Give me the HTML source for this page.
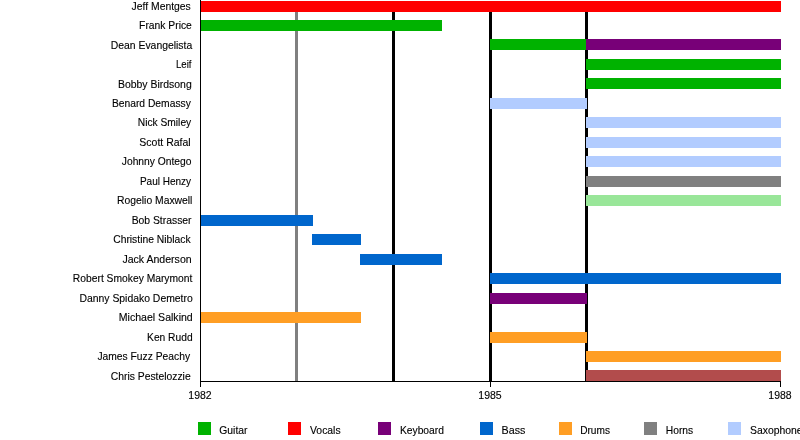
<!DOCTYPE html>
<html><head><meta charset="utf-8"><title>Timeline</title>
<style>
html,body{margin:0;padding:0;background:#fff;}
body{width:800px;height:440px;overflow:hidden;font-family:"Liberation Sans",sans-serif;}
svg{display:block;will-change:transform;}
text{font-family:"Liberation Sans",sans-serif;font-size:10.4px;fill:#000;stroke:#000;stroke-width:0.12px;}
</style></head><body>
<svg width="800" height="440" viewBox="0 0 800 440" shape-rendering="crispEdges">
<rect x="0" y="0" width="800" height="440" fill="#ffffff"/>
<g>
<rect x="295" y="1" width="3" height="380" fill="#808080"/>
<rect x="392" y="1" width="3" height="380" fill="#000000"/>
<rect x="489" y="1" width="3" height="380" fill="#000000"/>
<rect x="585" y="1" width="3" height="380" fill="#000000"/>
</g>
<g>
<rect x="200" y="1" width="581" height="11" fill="#ff0000"/>
<rect x="200" y="20" width="242" height="11" fill="#00b200"/>
<rect x="490" y="39" width="96" height="11" fill="#00b200"/>
<rect x="586" y="39" width="195" height="11" fill="#780078"/>
<rect x="586" y="59" width="195" height="11" fill="#00b200"/>
<rect x="586" y="78" width="195" height="11" fill="#00b200"/>
<rect x="490" y="98" width="97" height="11" fill="#b2ccff"/>
<rect x="586" y="117" width="195" height="11" fill="#b2ccff"/>
<rect x="586" y="137" width="195" height="11" fill="#b2ccff"/>
<rect x="586" y="156" width="195" height="11" fill="#b2ccff"/>
<rect x="586" y="176" width="195" height="11" fill="#808080"/>
<rect x="586" y="195" width="195" height="11" fill="#99e699"/>
<rect x="200" y="215" width="113" height="11" fill="#0066cc"/>
<rect x="312" y="234" width="49" height="11" fill="#0066cc"/>
<rect x="360" y="254" width="82" height="11" fill="#0066cc"/>
<rect x="490" y="273" width="291" height="11" fill="#0066cc"/>
<rect x="490" y="293" width="97" height="11" fill="#780078"/>
<rect x="200" y="312" width="161" height="11" fill="#ff9e24"/>
<rect x="490" y="332" width="97" height="11" fill="#ff9e24"/>
<rect x="586" y="351" width="195" height="11" fill="#ff9e24"/>
<rect x="586" y="370" width="195" height="11" fill="#b24c4c"/>
</g>
<g fill="#000000">
<rect x="200" y="0" width="1" height="387"/>
<rect x="200" y="381" width="581" height="1"/>
<rect x="490" y="381" width="1" height="6"/>
<rect x="780" y="381" width="1" height="6"/>
</g>
<g>
<text id="n0" x="190.81" y="10.00" text-anchor="end" textLength="59.23" lengthAdjust="spacingAndGlyphs">Jeff Mentges</text>
<text id="n1" x="191.84" y="29.00" text-anchor="end" textLength="52.72" lengthAdjust="spacingAndGlyphs">Frank Price</text>
<text id="n2" x="192.22" y="49.00" text-anchor="end" textLength="81.45" lengthAdjust="spacingAndGlyphs">Dean Evangelista</text>
<text id="n3" x="191.46" y="68.00" text-anchor="end" textLength="15.44" lengthAdjust="spacingAndGlyphs">Leif</text>
<text id="n4" x="191.70" y="88.00" text-anchor="end" textLength="73.72" lengthAdjust="spacingAndGlyphs">Bobby Birdsong</text>
<text id="n5" x="190.83" y="107.00" text-anchor="end" textLength="78.91" lengthAdjust="spacingAndGlyphs">Benard Demassy</text>
<text id="n6" x="191.20" y="126.00" text-anchor="end" textLength="53.43" lengthAdjust="spacingAndGlyphs">Nick Smiley</text>
<text id="n7" x="190.71" y="146.00" text-anchor="end" textLength="51.34" lengthAdjust="spacingAndGlyphs">Scott Rafal</text>
<text id="n8" x="191.54" y="165.00" text-anchor="end" textLength="69.77" lengthAdjust="spacingAndGlyphs">Johnny Ontego</text>
<text id="n9" x="191.14" y="185.00" text-anchor="end" textLength="51.26" lengthAdjust="spacingAndGlyphs">Paul Henzy</text>
<text id="n10" x="192.42" y="204.00" text-anchor="end" textLength="75.35" lengthAdjust="spacingAndGlyphs">Rogelio Maxwell</text>
<text id="n11" x="191.55" y="224.00" text-anchor="end" textLength="59.91" lengthAdjust="spacingAndGlyphs">Bob Strasser</text>
<text id="n12" x="190.65" y="243.00" text-anchor="end" textLength="77.45" lengthAdjust="spacingAndGlyphs">Christine Niblack</text>
<text id="n13" x="191.64" y="263.00" text-anchor="end" textLength="69.22" lengthAdjust="spacingAndGlyphs">Jack Anderson</text>
<text id="n14" x="192.40" y="282.00" text-anchor="end" textLength="119.53" lengthAdjust="spacingAndGlyphs">Robert Smokey Marymont</text>
<text id="n15" x="192.75" y="302.00" text-anchor="end" textLength="113.31" lengthAdjust="spacingAndGlyphs">Danny Spidako Demetro</text>
<text id="n16" x="192.75" y="321.00" text-anchor="end" textLength="73.99" lengthAdjust="spacingAndGlyphs">Michael Salkind</text>
<text id="n17" x="192.57" y="341.00" text-anchor="end" textLength="45.49" lengthAdjust="spacingAndGlyphs">Ken Rudd</text>
<text id="n18" x="190.04" y="360.00" text-anchor="end" textLength="92.60" lengthAdjust="spacingAndGlyphs">James Fuzz Peachy</text>
<text id="n19" x="190.69" y="380.00" text-anchor="end" textLength="79.88" lengthAdjust="spacingAndGlyphs">Chris Pestelozzie</text>
</g>
<g>
<text id="y1982" x="199.98" y="399.00" text-anchor="middle" textLength="23.30" lengthAdjust="spacingAndGlyphs">1982</text>
<text id="y1985" x="490.00" y="399.00" text-anchor="middle" textLength="23.36" lengthAdjust="spacingAndGlyphs">1985</text>
<text id="y1988" x="779.96" y="399.00" text-anchor="middle" textLength="23.26" lengthAdjust="spacingAndGlyphs">1988</text>
</g>
<g>
<rect x="198.00" y="422" width="13" height="13" fill="#00b200"/>
<text id="l0" x="219.30" y="434.00" text-anchor="start" textLength="28.18" lengthAdjust="spacingAndGlyphs">Guitar</text>
<rect x="288.00" y="422" width="13" height="13" fill="#ff0000"/>
<text id="l1" x="310.00" y="434.00" text-anchor="start" textLength="30.62" lengthAdjust="spacingAndGlyphs">Vocals</text>
<rect x="378.00" y="422" width="13" height="13" fill="#780078"/>
<text id="l2" x="399.94" y="434.00" text-anchor="start" textLength="43.99" lengthAdjust="spacingAndGlyphs">Keyboard</text>
<rect x="480.00" y="422" width="13" height="13" fill="#0066cc"/>
<text id="l3" x="501.54" y="434.00" text-anchor="start" textLength="23.83" lengthAdjust="spacingAndGlyphs">Bass</text>
<rect x="559.00" y="422" width="13" height="13" fill="#ff9e24"/>
<text id="l4" x="580.16" y="434.00" text-anchor="start" textLength="29.81" lengthAdjust="spacingAndGlyphs">Drums</text>
<rect x="644.00" y="422" width="13" height="13" fill="#808080"/>
<text id="l5" x="665.77" y="434.00" text-anchor="start" textLength="27.40" lengthAdjust="spacingAndGlyphs">Horns</text>
<rect x="728.00" y="422" width="13" height="13" fill="#b2ccff"/>
<text id="l6" x="750.00" y="434.00" text-anchor="start">Saxophone</text>
</g>
</svg>
</body></html>
